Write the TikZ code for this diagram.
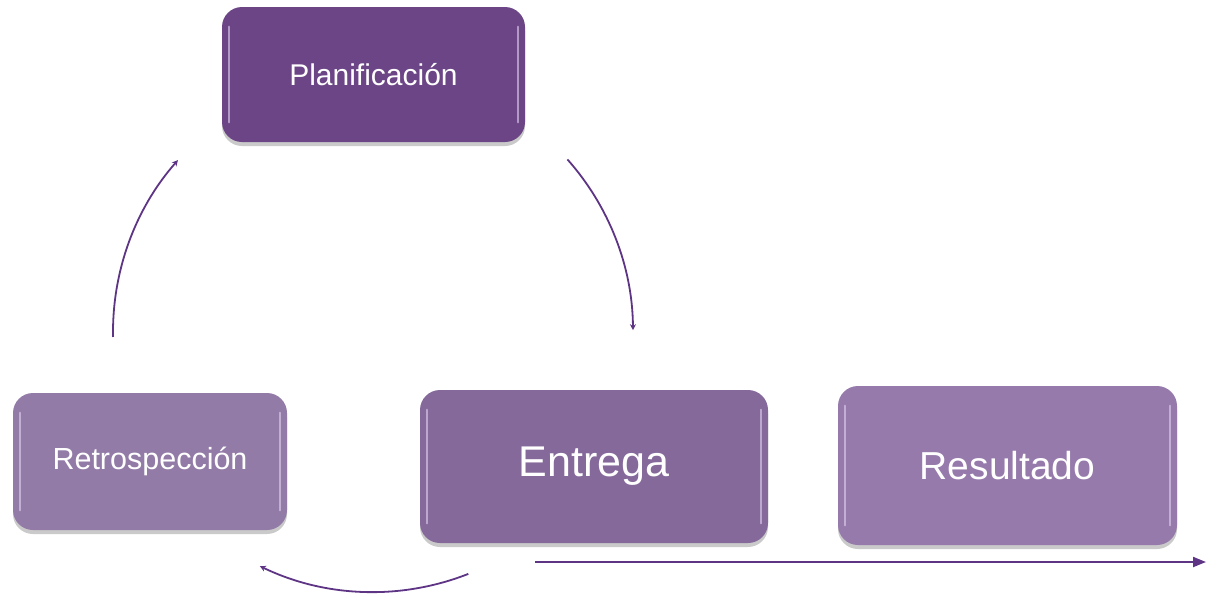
\documentclass[tikz,border=0pt]{standalone}
\usepackage{fontspec}
\setmainfont{Liberation Sans}
\usetikzlibrary{arrows.meta,shadows}
\definecolor{plancol}{HTML}{6C4586}
\definecolor{retrocol}{HTML}{937BA7}
\definecolor{entcol}{HTML}{84699A}
\definecolor{rescol}{HTML}{967AAB}
\definecolor{arrcol}{HTML}{5E3585}
\definecolor{glosscol}{HTML}{E2D2F2}
\tikzset{
  box/.style={rounded corners=20pt, inner sep=0pt, text=white, draw=none,
    drop shadow={shadow xshift=0pt, shadow yshift=-4pt, opacity=.35, fill=black!60}},
  arcarrow/.style={draw=arrcol, line width=1.8pt, -{Stealth[length=6pt,width=6pt]}},
  lineararrow/.style={draw=arrcol, line width=2pt, -{Triangle[length=13pt,width=10pt]}},
  gloss/.style={glosscol, line width=2.5pt, line cap=round, opacity=.6}
}
\newcommand{\glossbox}[1]{%
  \draw[gloss] ([xshift=7pt,yshift=-20pt]#1.north west) -- ([xshift=7pt,yshift=20pt]#1.south west);
  \draw[gloss] ([xshift=-7pt,yshift=-20pt]#1.north east) -- ([xshift=-7pt,yshift=20pt]#1.south east);
}
\begin{document}
\begin{tikzpicture}[x=1pt,y=-1pt]
\useasboundingbox (0,0) rectangle (1207,595);
\node[box, fill=plancol, minimum width=303pt, minimum height=135pt, font=\fontsize{30}{32}\selectfont] (plan) at (373.5,74.5) {Planificación};
\node[box, fill=retrocol, minimum width=274pt, minimum height=137pt, font=\fontsize{30.5}{32}\selectfont] (retro) at (150,461.5) {Retrospección};
\node[box, fill=entcol, minimum width=348pt, minimum height=153pt, font=\fontsize{43}{46}\selectfont] (ent) at (594,466.5) {Entrega};
\node[box, fill=rescol, minimum width=339pt, minimum height=159pt, font=\fontsize{39}{42}\selectfont] (res) at (1007.5,465.5) {Resultado};
\glossbox{plan}
\glossbox{retro}
\glossbox{ent}
\glossbox{res}
% cycle arcs on a circle centred at (373,332), radius 260
\coordinate (c) at (373,332);
\coordinate (l1) at ([shift={(178.9:260)}]c);
\coordinate (r1) at ([shift={(-41.6:260)}]c);
\coordinate (b1) at ([shift={(68.5:260)}]c);
\draw[arcarrow] (l1) arc[start angle=178.9, end angle=221.4, radius=260];
\draw[arcarrow] (r1) arc[start angle=-41.6, end angle=-0.4, radius=260];
\draw[arcarrow] (b1) arc[start angle=68.5, end angle=115.8, radius=260];
% output arrow
\coordinate (o1) at (535,562);
\coordinate (o2) at (1206,562);
\draw[lineararrow] (o1) -- (o2);
\end{tikzpicture}
\end{document}
